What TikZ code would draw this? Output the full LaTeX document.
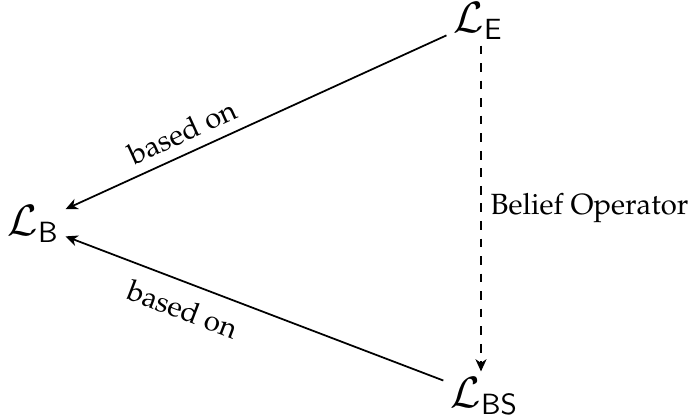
\documentclass[tikz,border=0pt]{standalone}
\usepackage[T1]{fontenc}
\usepackage{mathpazo}
\usetikzlibrary{arrows.meta}
\begin{document}
\begin{tikzpicture}[x=0.342pt,y=-0.342pt,
  lang/.style={inner sep=2pt, font=\Large},
  rel/.style={-{Stealth[length=4.2pt,width=3.8pt,inset=1.3pt]}, line width=0.6pt},
  lbl/.style={font=\normalsize, inner sep=3.5pt}]
\useasboundingbox (0,0) rectangle (691,419);
\node[lang] (E) at (478,21) {$\mathcal{L}_{\mathsf{E}}$};
\node[lang] (B) at (33,224) {$\mathcal{L}_{\mathsf{B}}$};
\node[lang] (S) at (484,396) {$\mathcal{L}_{\mathsf{BS}}$};
\draw[rel] (E) -- node[lbl, sloped, above, pos=0.67] {based on} (B);
\draw[rel] (S) -- node[lbl, sloped, below, pos=0.665, inner sep=5pt] {based on} (B);
\draw[rel, dashed] (E.south -| 481,0) -- node[lbl, right, inner sep=3pt] {Belief Operator} (S.north -| 481,0);
\end{tikzpicture}
\end{document}
